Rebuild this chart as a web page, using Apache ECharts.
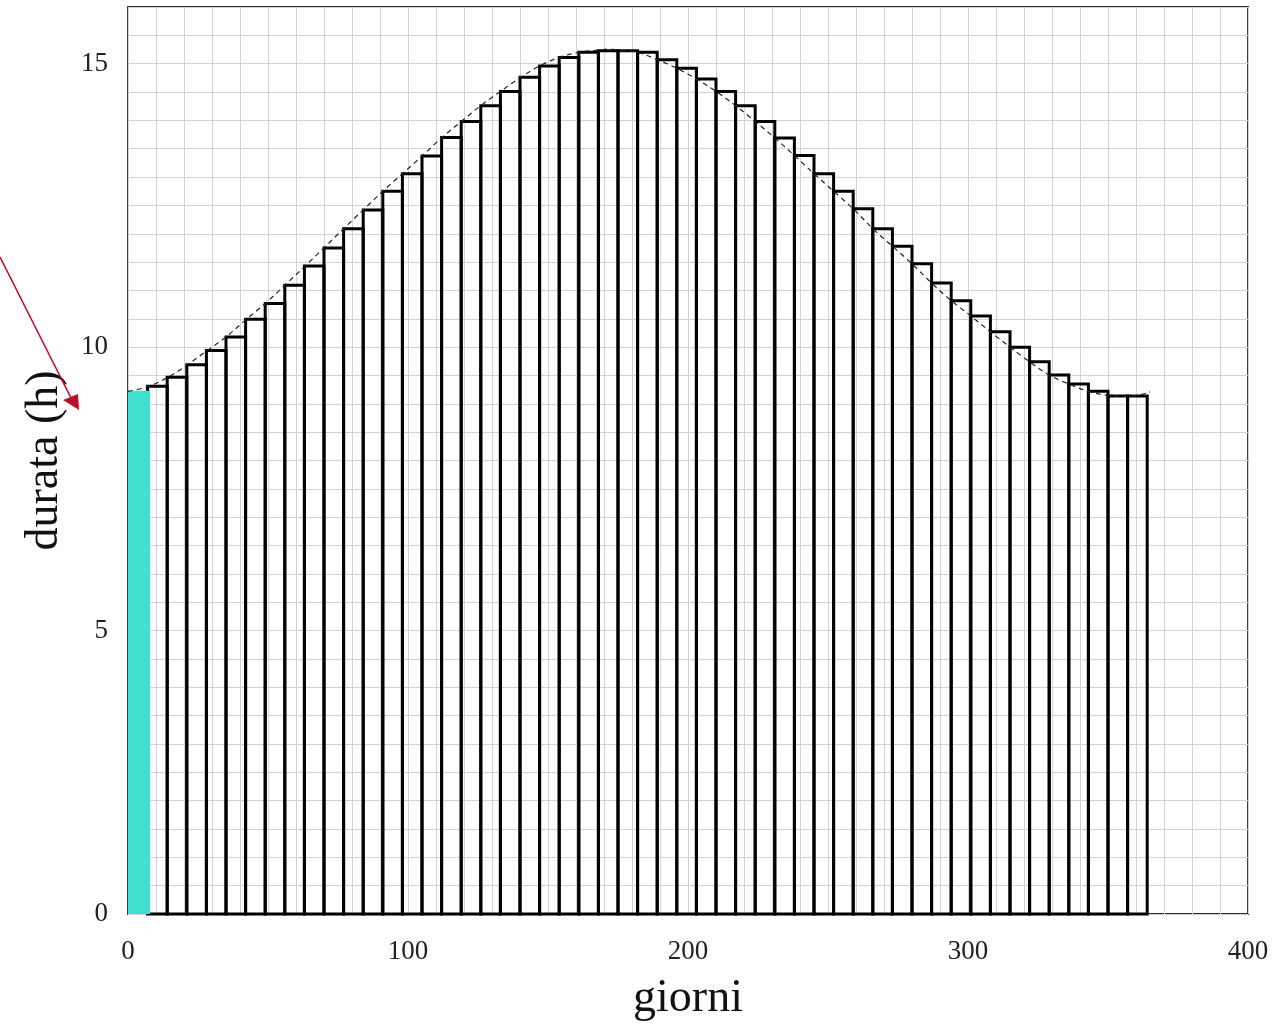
<!DOCTYPE html>
<html>
<head>
<meta charset="utf-8">
<script src="https://cdn.jsdelivr.net/npm/echarts@6/dist/echarts.min.js"></script>
<style>
html,body{margin:0;padding:0;background:#fff;}
#chart{width:1288px;height:1027px;}
</style>
</head>
<body>
<div id="chart"></div>
<script>
// ---- data ----
const barStartDays = [0,7,14,21,28,35,42,49,56,63,70,77,84,91,98,105,112,119,126,133,140,147,154,161,168,175,182,189,196,203,210,217,224,231,238,245,252,259,266,273,280,287,294,301,308,315,322,329,336,343,350,357];
const barWidthDays = 7;
const barHours = [9.23,9.31,9.47,9.69,9.94,10.18,10.49,10.77,11.09,11.43,11.75,12.09,12.42,12.75,13.06,13.37,13.70,13.98,14.26,14.51,14.76,14.96,15.11,15.20,15.23,15.23,15.20,15.07,14.92,14.73,14.51,14.26,13.98,13.69,13.38,13.06,12.75,12.44,12.09,11.78,11.47,11.13,10.82,10.55,10.27,10.00,9.74,9.51,9.35,9.22,9.14,9.14];
const highlightBarIndex = 0;

const curveDays  = [0,7,14,21,28,35,42,49,56,63,70,77,84,91,98,105,112,119,126,133,140,147,154,161,168,172,175,182,189,196,203,210,217,224,231,238,245,252,259,266,273,280,287,294,301,308,315,322,329,336,343,350,357,365];
const curveHours = [9.22,9.30,9.46,9.68,9.93,10.18,10.48,10.77,11.09,11.42,11.75,12.09,12.42,12.75,13.06,13.37,13.69,13.98,14.26,14.51,14.75,14.96,15.11,15.20,15.24,15.26,15.24,15.20,15.07,14.92,14.73,14.51,14.26,13.98,13.69,13.38,13.06,12.75,12.44,12.09,11.78,11.47,11.13,10.82,10.55,10.27,10.00,9.74,9.51,9.35,9.22,9.15,9.13,9.21];

const xTickLabels = [0,100,200,300,400];
const yTickLabels = [0,5,10,15];

// ---- build series data ----
const barData = barStartDays.map((s, i) => [s, s + barWidthDays, barHours[i], i === highlightBarIndex ? 1 : 0]);
const curveData = curveDays.map((d, i) => [d, curveHours[i]]);

const serif = "'Liberation Serif', 'DejaVu Serif', serif";
const chart = echarts.init(document.getElementById('chart'));

chart.setOption({
  animation: false,
  backgroundColor: '#fff',
  grid: {left: 128, right: 40, top: 7, bottom: 111, show: true, borderColor: '#2a2a2a', borderWidth: 1.8, backgroundColor: 'transparent'},
  xAxis: {
    type: 'value', min: 0, max: 400, interval: 10,
    name: 'giorni', nameLocation: 'middle', nameGap: 62,
    nameTextStyle: {fontFamily: serif, fontSize: 46, color: '#111'},
    axisLine: {show: false}, axisTick: {show: false},
    axisLabel: {
      fontFamily: serif, fontSize: 27, color: '#222', margin: 24,
      formatter: v => xTickLabels.indexOf(v) >= 0 ? String(v) : ''
    },
    splitLine: {show: true, lineStyle: {color: '#d2d2d2', width: 1}}
  },
  yAxis: {
    type: 'value', min: 0, max: 16, interval: 0.5,
    name: 'durata (h)', nameLocation: 'middle', nameGap: 60, nameRotate: 90,
    nameTextStyle: {fontFamily: serif, fontSize: 46, color: '#111'},
    axisLine: {show: false}, axisTick: {show: false},
    axisLabel: {
      fontFamily: serif, fontSize: 27, color: '#222', margin: 20,
      formatter: v => yTickLabels.indexOf(v) >= 0 ? String(v) : ''
    },
    splitLine: {show: true, lineStyle: {color: '#d2d2d2', width: 1}}
  },
  series: [
    {
      type: 'custom',
      data: barData,
      encode: {x: [0, 1], y: 2},
      clip: false,
      z: 2,
      renderItem: function (params, api) {
        const p0 = api.coord([api.value(0), api.value(2)]);
        const p1 = api.coord([api.value(1), 0]);
        const hl = api.value(3) === 1;
        if (hl) {
          return {
            type: 'rect', z2: 10,
            shape: {x: p0[0], y: p0[1], width: p1[0] - p0[0] + 2.5, height: p1[1] - p0[1]},
            style: {fill: '#40e0d0', stroke: null}
          };
        }
        return {
          type: 'rect',
          shape: {x: p0[0], y: p0[1], width: p1[0] - p0[0], height: p1[1] - p0[1]},
          style: {fill: 'none', stroke: '#000', lineWidth: 3}
        };
      }
    },
    {
      type: 'line',
      data: curveData,
      smooth: 0.4,
      symbol: 'none',
      z: 5,
      lineStyle: {color: '#222', width: 1.2, type: [5, 4]}
    }
  ],
  graphic: [
    {type: 'line', shape: {x1: 0, y1: 257, x2: 71, y2: 398}, style: {stroke: '#b5122a', lineWidth: 1.6}, z: 100},
    {type: 'polygon', shape: {points: [[79, 410], [63, 400], [78, 394]]}, style: {fill: '#b5122a'}, z: 100}
  ]
});
</script>
</body>
</html>
